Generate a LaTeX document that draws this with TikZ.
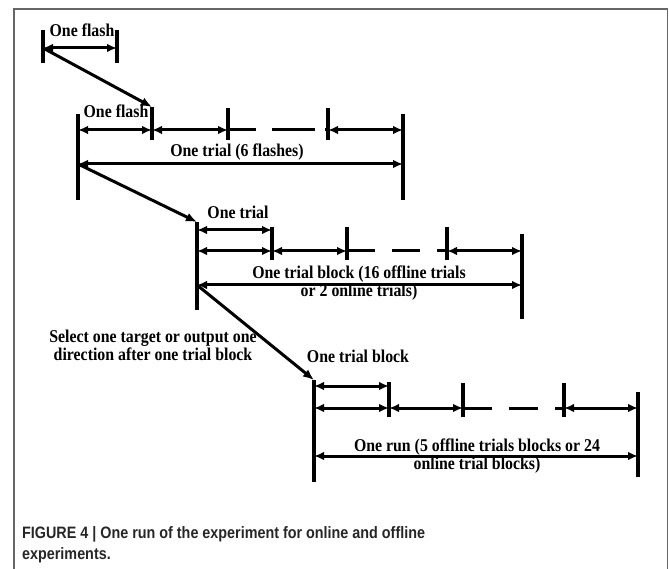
\documentclass[tikz,border=0pt]{standalone}
\usepackage{fontspec}
\setmainfont{Liberation Serif}[FakeStretch=0.88]
\newfontfamily\capfont{Liberation Sans}[FakeStretch=0.87]
\usetikzlibrary{arrows.meta}

\begin{document}
\begin{tikzpicture}[x=1pt, y=-1pt,
	tickline/.style={line width=3.6pt},
	span/.style={line width=3pt, {Latex[length=10pt,width=8.5pt]}-{Latex[length=10pt,width=8.5pt]}},
	link/.style={line width=3pt, -{Latex[length=11pt,width=9pt]}},
	gapline/.style={line width=3pt},
	lbl/.style={font=\fontsize{18}{18}\selectfont\bfseries, inner sep=0pt, align=center}]
				\useasboundingbox (0,0) rectangle (669,569);
				% Frame
				\draw[gray!80!black, line width=1.4pt] (14,569) -- (14,9) -- (667.5,9) -- (667.5,569);

				% Nodes
				\coordinate (f1a) at (43,48);
				\coordinate (f1b) at (117,48);
				\coordinate (r2a) at (78,130);
				\coordinate (r2b) at (152,130);
				\coordinate (r2c) at (228,130);
				\coordinate (r2d) at (328,130);
				\coordinate (r2e) at (403,130);
				\coordinate (b2a) at (78,164);
				\coordinate (b2b) at (403,164);
				\coordinate (top2) at (152,107);
				\coordinate (p3a) at (197,230);
				\coordinate (p3b) at (272,230);
				\coordinate (r3a) at (197,251);
				\coordinate (r3b) at (272,251);
				\coordinate (r3c) at (347,251);
				\coordinate (r3d) at (447,251);
				\coordinate (r3e) at (522,251);
				\coordinate (b3a) at (197,285);
				\coordinate (b3b) at (522,285);
				\coordinate (top3) at (197,222);
				\coordinate (p4a) at (314,386);
				\coordinate (p4b) at (389,386);
				\coordinate (r4a) at (314,408);
				\coordinate (r4b) at (389,408);
				\coordinate (r4c) at (463,408);
				\coordinate (r4d) at (564,408);
				\coordinate (r4e) at (638,408);
				\coordinate (b4a) at (314,456);
				\coordinate (b4b) at (638,456);
				\coordinate (top4) at (314,380);

				\node[lbl, anchor=base] (flash1) at (82,37) {One flash};
				\node[lbl, anchor=base] (flash2) at (116,118) {One flash};
				\node[lbl, anchor=base] (trial) at (237,157) {One trial (6 flashes)};
				\node[lbl, anchor=base] (trial1) at (238,219) {One trial};
				\node[lbl, anchor=north] (block) at (359,266) {One trial block (16 offline trials\\or 2 online trials)};
				\node[lbl, anchor=north] (select) at (153,330) {Select one target or output one\\direction after one trial block};
				\node[lbl, anchor=base] (block1) at (358,362) {One trial block};
				\node[lbl, anchor=north] (run) at (477,439) {One run (5 offline trials blocks or 24\\online trial blocks)};
				\node[font=\capfont\bfseries\fontsize{16.5}{21}\selectfont, text=black!85, align=left, inner sep=0pt, anchor=north west] (caption) at (22,526) {FIGURE 4 | One run of the experiment for online and offline\\experiments.};

				% Ticks
				\draw[tickline] (43,30) -- (43,63);
				\draw[tickline] (117,30) -- (117,63);
				\draw[tickline] (78,114) -- (78,200);
				\draw[tickline] (152,107) -- (152,140);
				\draw[tickline] (228,108) -- (228,140);
				\draw[tickline] (328,108) -- (328,140);
				\draw[tickline] (403,114) -- (403,200);
				\draw[tickline] (197,222) -- (197,310);
				\draw[tickline] (272,227) -- (272,260);
				\draw[tickline] (347,227) -- (347,260);
				\draw[tickline] (447,227) -- (447,260);
				\draw[tickline] (522,234) -- (522,319);
				\draw[tickline] (314,380) -- (314,482);
				\draw[tickline] (389,382) -- (389,417);
				\draw[tickline] (463,383) -- (463,417);
				\draw[tickline] (564,383) -- (564,417);
				\draw[tickline] (638,392) -- (638,477);

				% Edges
				\draw[span] (f1a) -- (f1b);
				\draw[link] (f1a) -- (top2);
				\draw[span] (r2a) -- (r2b);
				\draw[span] (r2b) -- (r2c);
				\draw[gapline, dash pattern=on 28pt off 16pt on 43pt off 10pt] (r2c) -- (r2d);
				\draw[span] (r2d) -- (r2e);
				\draw[span] (b2a) -- (b2b);
				\draw[link] (b2a) -- (top3);
				\draw[span] (p3a) -- (p3b);
				\draw[span] (r3a) -- (r3b);
				\draw[span] (r3b) -- (r3c);
				\draw[gapline, dash pattern=on 28pt off 17pt] (r3c) -- (r3d);
				\draw[span] (r3d) -- (r3e);
				\draw[span] (b3a) -- (b3b);
				\draw[link] (b3a) -- (top4);
				\draw[span] (p4a) -- (p4b);
				\draw[span] (r4a) -- (r4b);
				\draw[span] (r4b) -- (r4c);
				\draw[gapline, dash pattern=on 29pt off 17pt] (r4c) -- (r4d);
				\draw[span] (r4d) -- (r4e);
				\draw[span] (b4a) -- (b4b);
			\end{tikzpicture}
\end{document}
